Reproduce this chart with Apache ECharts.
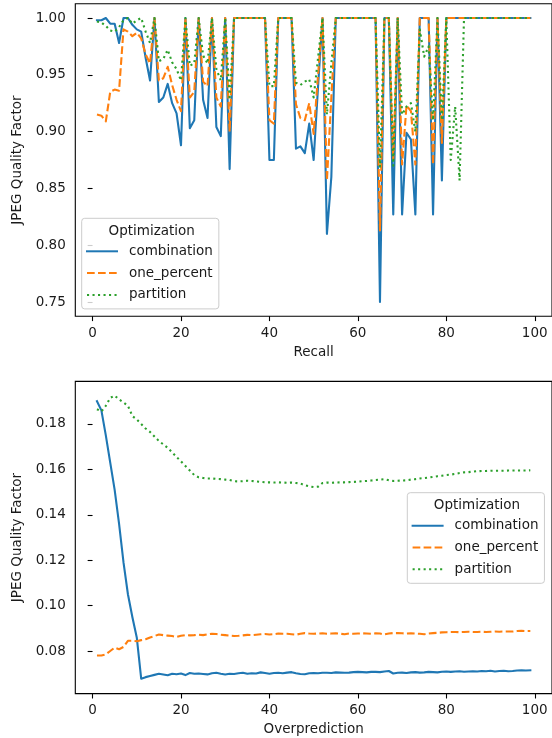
<!DOCTYPE html>
<html><head><meta charset="utf-8">
<script src="https://cdn.jsdelivr.net/npm/echarts@6/dist/echarts.min.js"></script>
<style>html,body{margin:0;padding:0;background:#fff}#c{width:552px;height:738px}</style>
</head><body><div id="c"></div>
<script>
// ---------- data ----------
const seriesNames = ['combination', 'one_percent', 'partition'];

const recall = [1,2,3,4,5,6,7,8,9,10,11,12,13,14,15,16,17,18,19,20,21,22,23,24,25,26,27,28,29,30,31,32,33,34,35,36,37,38,39,40,41,42,43,44,45,46,47,48,49,50,51,52,53,54,55,56,57,58,59,60,61,62,63,64,65,66,67,68,69,70,71,72,73,74,75,76,77,78,79,80,81,82,83,84,85,86,87,88,89,90,91,92,93,94,95,96,97,98,99];

const recallCombination = [
0.998,0.998,1.0,0.995,0.995,0.978,1.0,1.0,0.994,0.99,
0.988,0.965,0.945,1.0,0.926,0.93,0.942,0.925,0.916,0.888,
1.0,0.903,0.91,1.0,0.928,0.912,1.0,0.904,0.896,1.0,
0.867,1.0,1.0,1.0,1.0,1.0,1.0,1.0,1.0,0.875,
0.875,1.0,1.0,1.0,1.0,0.885,0.887,0.881,0.907,0.875,
0.94,1.0,0.81,0.86,1.0,1.0,1.0,1.0,1.0,1.0,
1.0,1.0,1.0,1.0,0.75,1.0,1.0,0.827,1.0,0.827,
0.899,0.893,0.827,1.0,1.0,1.0,0.827,1.0,0.857,1.0,
1.0,1.0,1.0,1.0,1.0,1.0,1.0,1.0,1.0,1.0,
1.0,1.0,1.0,1.0,1.0,1.0,1.0,1.0,1.0];

const recallOnePercent = [
0.915,0.914,0.909,0.935,0.937,0.936,0.99,0.988,0.984,0.987,
0.982,0.968,0.96,1.0,0.945,0.947,0.957,0.941,0.928,0.918,
1.0,0.93,0.935,1.0,0.944,0.94,1.0,0.93,0.922,1.0,
0.90,1.0,1.0,1.0,1.0,1.0,1.0,1.0,1.0,0.91,
0.907,1.0,1.0,1.0,1.0,0.924,0.912,0.91,0.925,0.898,
0.95,1.0,0.857,0.93,1.0,1.0,1.0,1.0,1.0,1.0,
1.0,1.0,1.0,1.0,0.813,1.0,1.0,0.875,1.0,0.871,
0.923,0.918,0.871,1.0,1.0,1.0,0.871,1.0,0.89,1.0,
1.0,1.0,1.0,1.0,1.0,1.0,1.0,1.0,1.0,1.0,
1.0,1.0,1.0,1.0,1.0,1.0,1.0,1.0,1.0];

const recallPartition = [
0.997,0.996,0.993,0.989,0.988,0.992,0.998,1.0,0.995,0.998,
1.0,0.988,0.978,1.0,0.962,0.964,0.972,0.961,0.955,0.945,
1.0,0.958,0.96,1.0,0.967,0.96,1.0,0.955,0.945,1.0,
0.928,1.0,1.0,1.0,1.0,1.0,1.0,1.0,1.0,0.94,
0.94,1.0,1.0,1.0,1.0,0.943,0.941,0.944,0.946,0.93,
0.965,1.0,0.915,0.96,1.0,1.0,1.0,1.0,1.0,1.0,
1.0,1.0,1.0,1.0,0.869,1.0,1.0,0.87,1.0,0.915,
0.922,0.925,0.9,0.99,0.966,0.975,0.91,1.0,0.91,1.0,
0.875,0.922,0.857,1.0,1.0,1.0,1.0,1.0,1.0,1.0,
1.0,1.0,1.0,1.0,1.0,1.0,1.0,1.0,1.0];

const overprediction = [1,2,3,4,5,6,7,8,9,10,11,12,13,14,15,16,17,18,19,20,21,22,23,24,25,26,27,28,29,30,31,32,33,34,35,36,37,38,39,40,41,42,43,44,45,46,47,48,49,50,51,52,53,54,55,56,57,58,59,60,61,62,63,64,65,66,67,68,69,70,71,72,73,74,75,76,77,78,79,80,81,82,83,84,85,86,87,88,89,90,91,92,93,94,95,96,97,98,99];

const overCombination = [
0.190,0.186,0.175,0.163,0.151,0.136,0.119,0.105,0.095,0.086,
0.0678,0.0685,0.0690,0.0695,0.0700,0.0697,0.0693,0.0700,0.0698,0.0701,
0.0694,0.0703,0.0700,0.0701,0.0699,0.0697,0.0702,0.0704,0.0700,0.0697,
0.0700,0.0699,0.0702,0.0704,0.0700,0.0702,0.0701,0.0706,0.0703,0.0700,
0.0703,0.0704,0.0702,0.0705,0.0707,0.0702,0.0699,0.0698,0.0702,0.0703,
0.0702,0.0704,0.0704,0.0703,0.0706,0.0705,0.0704,0.0705,0.0707,0.0708,
0.0707,0.0706,0.0708,0.0708,0.0707,0.0710,0.0712,0.0701,0.0704,0.0705,
0.0703,0.0706,0.0707,0.0705,0.0706,0.0708,0.0707,0.0706,0.0709,0.0710,
0.0708,0.0710,0.0711,0.0709,0.0710,0.0711,0.0710,0.0712,0.0711,0.0713,
0.0710,0.0712,0.0713,0.0711,0.0712,0.0714,0.0715,0.0714,0.0715];

const overOnePercent = [
0.0780,0.0780,0.0785,0.0800,0.0815,0.0808,0.0818,0.0845,0.0845,0.0843,
0.0848,0.0852,0.0860,0.0866,0.0873,0.0870,0.0868,0.0866,0.0862,0.0867,
0.0870,0.0869,0.0870,0.0872,0.0870,0.0873,0.0876,0.0875,0.0872,0.0870,
0.0868,0.0866,0.0867,0.0869,0.0871,0.0870,0.0872,0.0874,0.0875,0.0873,
0.0874,0.0877,0.0876,0.0876,0.0874,0.0872,0.0876,0.0879,0.0877,0.0876,
0.0877,0.0878,0.0876,0.0877,0.0878,0.0876,0.0874,0.0877,0.0876,0.0877,
0.0878,0.0877,0.0876,0.0878,0.0877,0.0873,0.0877,0.0879,0.0879,0.0878,
0.0877,0.0878,0.0877,0.0876,0.0874,0.0877,0.0879,0.0880,0.0882,0.0883,
0.0884,0.0884,0.0883,0.0884,0.0885,0.0884,0.0884,0.0885,0.0884,0.0885,
0.0886,0.0885,0.0886,0.0886,0.0886,0.0888,0.0889,0.0888,0.0888];

const overPartition = [
0.1865,0.1855,0.1880,0.1915,0.1925,0.1908,0.1895,0.1880,0.1835,0.1820,
0.1800,0.1780,0.1765,0.1745,0.1725,0.1710,0.1695,0.1675,0.1655,0.1635,
0.1615,0.1595,0.1575,0.1565,0.1562,0.1560,0.1560,0.1558,0.1557,0.1555,
0.1553,0.1548,0.1547,0.1548,0.1550,0.1549,0.1547,0.1545,0.1543,0.1543,
0.1542,0.1543,0.1542,0.1541,0.1542,0.1540,0.1538,0.1530,0.1525,0.1522,
0.1524,0.1540,0.1542,0.1541,0.1542,0.1543,0.1543,0.1544,0.1545,0.1546,
0.1548,0.1549,0.1551,0.1553,0.1555,0.1557,0.1552,0.1549,0.1550,0.1551,
0.1552,0.1555,0.1557,0.1560,0.1562,0.1564,0.1567,0.1570,0.1572,0.1575,
0.1577,0.1580,0.1584,0.1587,0.1588,0.1590,0.1592,0.1593,0.1593,0.1594,
0.1594,0.1594,0.1594,0.1595,0.1595,0.1595,0.1595,0.1595,0.1596];

const xTicks = [0, 20, 40, 60, 80, 100];
const recallYTicks = [0.75, 0.80, 0.85, 0.90, 0.95, 1.00];
const overYTicks = [0.08, 0.10, 0.12, 0.14, 0.16, 0.18];

// ---------- styles ----------
const FONT = 'DejaVu Sans';
const FS = 13.5;
const TXT = '#1a1a1a';
const colors = ['#1f77b4', '#ff7f0e', '#2ca02c'];
const dashes = ['solid', [7.7, 3.3], [2.1, 3.4]];
const caps = ['square', 'butt', 'butt'];

function pairs(xs, ys) { return xs.map((x, i) => [x, ys[i]]); }

function xAxisFor(gridIndex, name) {
  return {
    type: 'value', gridIndex, min: -3.9, max: 103.9,
    name, nameLocation: 'middle', nameGap: 29,
    nameTextStyle: { fontFamily: FONT, fontSize: FS, color: TXT },
    axisLine: { show: false },
    axisTick: { show: true, length: 4.9, lineStyle: { color: '#000', width: 1.1 }, customValues: xTicks },
    axisLabel: { fontFamily: FONT, fontSize: FS, color: TXT, margin: 10, customValues: xTicks, formatter: v => String(Math.round(v)) },
    splitLine: { show: false }
  };
}
function yAxisFor(gridIndex, min, max, ticks) {
  return {
    type: 'value', gridIndex, min, max,
    name: 'JPEG Quality Factor', nameLocation: 'middle', nameGap: 50, nameRotate: 90,
    nameTextStyle: { fontFamily: FONT, fontSize: FS, color: TXT },
    axisLine: { show: false },
    axisTick: { show: true, length: 4.9, lineStyle: { color: '#000', width: 1.1 }, customValues: ticks },
    axisLabel: { fontFamily: FONT, fontSize: FS, color: TXT, margin: 9.5, customValues: ticks, formatter: v => v.toFixed(2) },
    splitLine: { show: false }
  };
}
function lineSeries(i, gridIdx, xs, ys) {
  return {
    type: 'line', name: seriesNames[i], xAxisIndex: gridIdx, yAxisIndex: gridIdx,
    data: pairs(xs, ys), symbol: 'none', showSymbol: false, animation: false,
    color: colors[i],
    lineStyle: { color: colors[i], width: 2.1, type: dashes[i], cap: caps[i], join: 'round' },
    emphasis: { disabled: true }
  };
}
function legendAt(left, top) {
  return {
    orient: 'vertical', left, top,
    padding: [26, 6, 7, 4.3],
    itemWidth: 30, itemHeight: 14, itemGap: 7.8,
    data: seriesNames,
    selectedMode: false,
    itemStyle: { opacity: 0, borderWidth: 0 },
    backgroundColor: 'rgba(255,255,255,0.8)',
    borderColor: '#cccccc', borderWidth: 1, borderRadius: 3,
    textStyle: { fontFamily: FONT, fontSize: FS, color: TXT, padding: [0, 0, 0, 7] }
  };
}

const chart = echarts.init(document.getElementById('c'), null, { renderer: 'canvas' });
chart.setOption({
  animation: false,
  backgroundColor: '#fff',
  grid: [
    { left: 75.3, top: 3.8, width: 479.7, height: 312.4, show: true, borderColor: '#000', borderWidth: 1.1, backgroundColor: 'transparent', containLabel: false },
    { left: 75.3, top: 381.4, width: 479.7, height: 312.2, show: true, borderColor: '#000', borderWidth: 1.1, backgroundColor: 'transparent', containLabel: false }
  ],
  xAxis: [xAxisFor(0, 'Recall'), xAxisFor(1, 'Overprediction')],
  yAxis: [yAxisFor(0, 0.7375, 1.0125, recallYTicks), yAxisFor(1, 0.06125, 0.19875, overYTicks)],
  legend: [legendAt(81.7, 218.3), legendAt(407.3, 492.7)],
  graphic: [
    { type: 'text', x: 151.7, y: 231, z: 100, style: { text: 'Optimization', align: 'center', verticalAlign: 'middle', font: FS + 'px "' + FONT + '"', fill: TXT } },
    { type: 'text', x: 477, y: 505.5, z: 100, style: { text: 'Optimization', align: 'center', verticalAlign: 'middle', font: FS + 'px "' + FONT + '"', fill: TXT } }
  ],
  series: [
    lineSeries(0, 0, recall, recallCombination),
    lineSeries(1, 0, recall, recallOnePercent),
    lineSeries(2, 0, recall, recallPartition),
    lineSeries(0, 1, overprediction, overCombination),
    lineSeries(1, 1, overprediction, overOnePercent),
    lineSeries(2, 1, overprediction, overPartition)
  ]
});
</script></body></html>
